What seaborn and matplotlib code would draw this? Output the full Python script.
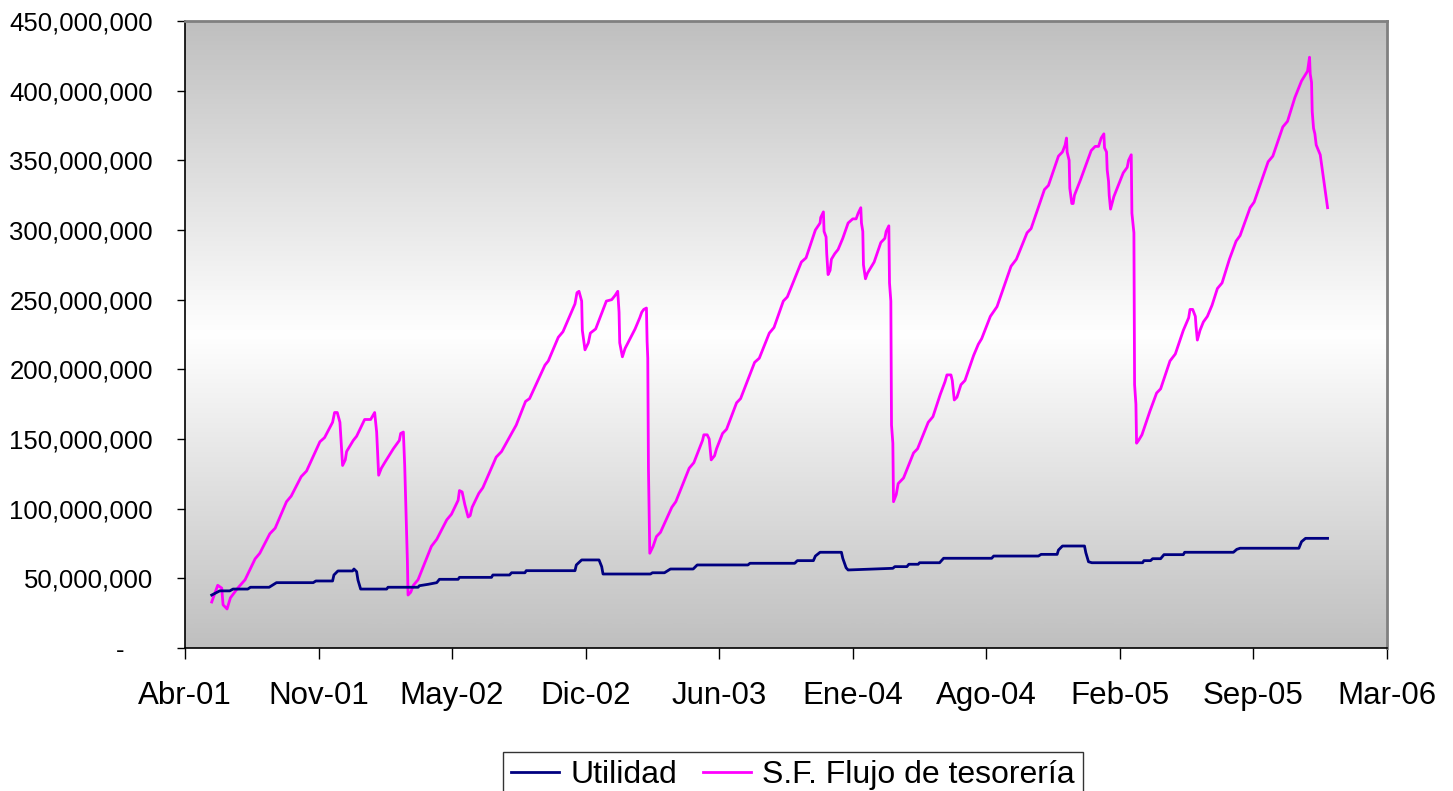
import numpy as np
import pandas as pd
import matplotlib
matplotlib.use("Agg")
import matplotlib.pyplot as plt
import seaborn as sns

# Utilidad (millones)
utilidad_fechas = [
    "2001-05-29", "2001-06-10", "2001-06-25", "2001-06-30", "2001-07-22", "2001-07-26",
    "2001-08-23", "2001-09-03", "2001-10-28", "2001-11-01", "2001-11-26", "2001-11-28",
    "2001-12-04", "2001-12-26", "2001-12-28", "2002-01-01", "2002-01-03", "2002-01-07",
    "2002-02-15", "2002-02-17", "2002-04-03", "2002-04-05", "2002-04-18", "2002-05-01",
    "2002-05-05", "2002-06-02", "2002-06-04", "2002-07-22", "2002-07-24", "2002-08-18",
    "2002-08-21", "2002-09-10", "2002-09-12", "2002-11-24", "2002-11-26", "2002-12-04",
    "2002-12-30", "2003-01-03", "2003-01-05", "2003-03-17", "2003-03-20", "2003-04-07",
    "2003-04-16", "2003-05-20", "2003-05-26", "2003-08-10", "2003-08-13", "2003-10-19",
    "2003-10-23", "2003-11-16", "2003-11-19", "2003-11-26", "2003-12-28", "2003-12-30",
    "2004-01-04", "2004-01-07", "2004-03-14", "2004-03-17", "2004-04-04", "2004-04-07",
    "2004-04-21", "2004-04-23", "2004-05-23", "2004-05-29", "2004-08-09", "2004-08-12",
    "2004-10-18", "2004-10-22", "2004-11-15", "2004-11-17", "2004-11-23", "2004-12-26",
    "2004-12-28", "2005-01-01", "2005-01-06", "2005-03-23", "2005-03-25", "2005-04-04",
    "2005-04-07", "2005-04-19", "2005-04-24", "2005-05-23", "2005-05-25", "2005-08-06",
    "2005-08-11", "2005-08-16", "2005-11-12", "2005-11-16", "2005-11-22", "2005-12-25",
]
utilidad_mm = [
    38.0, 41.0, 41.0, 42.3, 42.3, 43.6,
    43.6, 46.9, 46.9, 48.1, 48.1, 52.4,
    55.3, 55.3, 56.7, 54.8, 48.8, 42.3,
    42.3, 43.6, 43.6, 44.7, 45.7, 46.9,
    49.3, 49.3, 50.7, 50.7, 52.4, 52.4,
    54.0, 54.0, 55.5, 55.5, 59.6, 63.2,
    63.2, 58.4, 53.1, 53.1, 54.0, 54.0,
    56.7, 56.7, 59.6, 59.6, 60.8, 60.8,
    62.7, 62.7, 66.0, 68.7, 68.7, 64.4,
    57.6, 56.0, 57.2, 58.4, 58.4, 60.1,
    60.1, 61.2, 61.2, 64.4, 64.4, 66.0,
    66.0, 67.2, 67.2, 70.3, 73.2, 73.2,
    68.4, 61.9, 61.2, 61.2, 62.7, 62.7,
    64.1, 64.1, 67.0, 67.0, 68.7, 68.7,
    70.8, 71.6, 71.6, 76.3, 78.7, 78.7,
]

# S.F. Flujo de tesoreria (millones)
flujo_fechas = [
    "2001-05-29", "2001-06-07", "2001-06-13", "2001-06-15", "2001-06-21", "2001-06-26",
    "2001-07-07", "2001-07-18", "2001-08-02", "2001-08-09", "2001-08-24", "2001-09-01",
    "2001-09-18", "2001-09-25", "2001-10-10", "2001-10-18", "2001-11-07", "2001-11-14",
    "2001-11-26", "2001-11-29", "2001-12-03", "2001-12-07", "2001-12-11", "2001-12-15",
    "2001-12-17", "2001-12-27", "2002-01-01", "2002-01-13", "2002-01-22", "2002-01-28",
    "2002-01-31", "2002-02-03", "2002-02-07", "2002-02-12", "2002-02-25", "2002-03-06",
    "2002-03-08", "2002-03-12", "2002-03-14", "2002-03-18", "2002-03-19", "2002-03-23",
    "2002-03-27", "2002-04-03", "2002-04-23", "2002-05-01", "2002-05-16", "2002-05-23",
    "2002-06-02", "2002-06-04", "2002-06-08", "2002-06-12", "2002-06-17", "2002-06-20",
    "2002-06-23", "2002-07-03", "2002-07-09", "2002-07-29", "2002-08-06", "2002-08-28",
    "2002-09-11", "2002-09-17", "2002-10-10", "2002-10-15", "2002-10-30", "2002-11-06",
    "2002-11-24", "2002-11-27", "2002-11-30", "2002-12-04", "2002-12-05", "2002-12-09",
    "2002-12-14", "2002-12-17", "2002-12-25", "2003-01-10", "2003-01-18", "2003-01-23",
    "2003-01-27", "2003-01-29", "2003-01-30", "2003-02-03", "2003-02-07", "2003-02-22",
    "2003-03-01", "2003-03-04", "2003-03-07", "2003-03-11", "2003-03-12", "2003-03-13",
    "2003-03-14", "2003-03-16", "2003-03-21", "2003-03-26", "2003-04-01", "2003-04-18",
    "2003-04-24", "2003-05-14", "2003-05-21", "2003-06-03", "2003-06-05", "2003-06-10",
    "2003-06-13", "2003-06-16", "2003-06-21", "2003-06-24", "2003-07-03", "2003-07-09",
    "2003-07-24", "2003-07-30", "2003-08-20", "2003-08-27", "2003-09-11", "2003-09-18",
    "2003-10-02", "2003-10-08", "2003-10-29", "2003-11-05", "2003-11-19", "2003-11-26",
    "2003-11-27", "2003-12-01", "2003-12-02", "2003-12-05", "2003-12-06", "2003-12-08",
    "2003-12-11", "2003-12-13", "2003-12-18", "2003-12-23", "2003-12-30", "2004-01-07",
    "2004-01-14", "2004-01-19", "2004-01-22", "2004-01-26", "2004-01-27", "2004-01-29",
    "2004-01-30", "2004-02-02", "2004-02-05", "2004-02-15", "2004-02-25", "2004-03-02",
    "2004-03-04", "2004-03-08", "2004-03-09", "2004-03-11", "2004-03-12", "2004-03-14",
    "2004-03-15", "2004-03-19", "2004-03-22", "2004-03-30", "2004-04-14", "2004-04-20",
    "2004-05-06", "2004-05-13", "2004-05-24", "2004-05-31", "2004-06-03", "2004-06-09",
    "2004-06-11", "2004-06-14", "2004-06-18", "2004-06-24", "2004-06-30", "2004-07-13",
    "2004-07-20", "2004-07-25", "2004-08-07", "2004-08-17", "2004-09-07", "2004-09-15",
    "2004-10-01", "2004-10-07", "2004-10-27", "2004-11-02", "2004-11-17", "2004-11-23",
    "2004-11-27", "2004-11-29", "2004-11-30", "2004-12-03", "2004-12-04", "2004-12-07",
    "2004-12-09", "2004-12-11", "2004-12-20", "2005-01-05", "2005-01-11", "2005-01-16",
    "2005-01-20", "2005-01-24", "2005-01-25", "2005-01-28", "2005-01-29", "2005-01-31",
    "2005-02-01", "2005-02-03", "2005-02-08", "2005-02-22", "2005-02-28", "2005-03-02",
    "2005-03-06", "2005-03-07", "2005-03-10", "2005-03-11", "2005-03-13", "2005-03-14",
    "2005-03-17", "2005-03-22", "2005-04-03", "2005-04-13", "2005-04-19", "2005-05-03",
    "2005-05-11", "2005-05-23", "2005-05-31", "2005-06-02", "2005-06-06", "2005-06-10",
    "2005-06-11", "2005-06-13", "2005-06-17", "2005-06-22", "2005-06-28", "2005-07-05",
    "2005-07-13", "2005-07-20", "2005-07-31", "2005-08-10", "2005-08-16", "2005-08-31",
    "2005-09-06", "2005-09-27", "2005-10-04", "2005-10-19", "2005-10-26", "2005-11-06",
    "2005-11-16", "2005-11-25", "2005-11-28", "2005-11-29", "2005-12-01", "2005-12-02",
    "2005-12-04", "2005-12-06", "2005-12-08", "2005-12-14", "2005-12-25",
]
flujo_mm = [
    33, 45, 43, 31, 28, 36,
    43, 49, 64, 68, 82, 86,
    105, 109, 123, 127, 148, 151,
    162, 169, 169, 162, 131, 135,
    141, 149, 152, 164, 164, 169,
    155, 124, 129, 133, 143, 149,
    154, 155, 131, 63, 38, 40,
    45, 49, 73, 78, 92, 96,
    106, 113, 112, 103, 94, 95,
    101, 111, 115, 137, 141, 160,
    177, 179, 203, 206, 223, 227,
    247, 255, 256, 249, 228, 214,
    219, 226, 229, 249, 250, 253,
    256, 241, 219, 209, 215, 229,
    237, 241, 243, 244, 220, 208,
    129, 68, 73, 80, 83, 101,
    105, 129, 133, 149, 153, 153,
    150, 135, 138, 143, 154, 157,
    176, 179, 205, 208, 226, 230,
    249, 252, 277, 280, 300, 305,
    309, 313, 299, 295, 283, 268,
    271, 279, 283, 286, 294, 305,
    308, 308, 312, 316, 305, 299,
    275, 265, 269, 277, 291, 294,
    299, 303, 262, 249, 160, 147,
    105, 110, 118, 122, 140, 143,
    162, 166, 182, 191, 196, 196,
    192, 178, 180, 189, 192, 210,
    218, 222, 238, 245, 274, 279,
    298, 301, 329, 332, 353, 356,
    361, 366, 356, 350, 330, 319,
    319, 325, 336, 357, 360, 360,
    366, 369, 359, 356, 343, 335,
    325, 315, 324, 341, 345, 350,
    354, 312, 298, 189, 175, 147,
    149, 153, 170, 183, 186, 206,
    211, 228, 237, 243, 243, 238,
    231, 221, 228, 234, 238, 246,
    258, 262, 279, 292, 296, 316,
    320, 349, 353, 374, 378, 395,
    407, 414, 424, 412, 406, 385,
    373, 369, 361, 354, 316,
]

x_inicio = "2001-04-19"
x_fin = "2006-03-23"
x_etiquetas = ["Abr-01", "Nov-01", "May-02", "Dic-02", "Jun-03",
               "Ene-04", "Ago-04", "Feb-05", "Sep-05", "Mar-06"]
y_ticks = [0, 50e6, 100e6, 150e6, 200e6, 250e6, 300e6, 350e6, 400e6, 450e6]
y_etiquetas = ["-    ", "50,000,000", "100,000,000", "150,000,000", "200,000,000",
               "250,000,000", "300,000,000", "350,000,000", "400,000,000", "450,000,000"]

df_u = pd.DataFrame({"fecha": pd.to_datetime(utilidad_fechas),
                     "valor": np.array(utilidad_mm) * 1e6})
df_f = pd.DataFrame({"fecha": pd.to_datetime(flujo_fechas),
                     "valor": np.array(flujo_mm) * 1e6})

plt.rcParams["font.family"] = ["Liberation Sans", "DejaVu Sans"]

fig = plt.figure(figsize=(14.53, 7.91), dpi=100)
ax = fig.add_axes([185 / 1453, 1 - 648 / 791, 1202 / 1453, 627 / 791])

# fondo degradado gris-blanco-gris
t = np.linspace(0, 1, 256)
g = 0.75 + 0.25 * (1 - np.abs(t - 0.5) / 0.5)
grad = np.dstack([g, g, g]).reshape(256, 1, 3)
ax.imshow(grad, extent=[0, 1, 0, 1], transform=ax.transAxes, aspect="auto",
          zorder=0, interpolation="bicubic")

sns.lineplot(data=df_u, x="fecha", y="valor", ax=ax, color="#000080", linewidth=2.0,
             estimator=None, sort=False, label="Utilidad", zorder=3)
sns.lineplot(data=df_f, x="fecha", y="valor", ax=ax, color="#ff00ff", linewidth=2.0,
             estimator=None, sort=False, label="S.F. Flujo de tesorería", zorder=2)

x0 = pd.Timestamp(x_inicio)
x1 = pd.Timestamp(x_fin)
ax.set_xlim(x0, x1)
ax.set_ylim(0, 450e6)
ax.set_xticks([x0 + pd.Timedelta(days=200 * i) for i in range(len(x_etiquetas))])
ax.set_xticklabels(x_etiquetas, fontsize=22.5)
ax.set_yticks(y_ticks)
ax.set_yticklabels(y_etiquetas, fontsize=18.5)
ax.set_xlabel("")
ax.set_ylabel("")

ax.tick_params(axis="y", direction="out", length=6, width=1, pad=17)
ax.tick_params(axis="x", direction="out", length=8, width=1, pad=16)
for side in ["left", "bottom"]:
    ax.spines[side].set_color("black")
    ax.spines[side].set_linewidth(1.2)
for side in ["top", "right"]:
    ax.spines[side].set_color("#808080")
    ax.spines[side].set_linewidth(2)

handles, labels = ax.get_legend_handles_labels()
ax.get_legend().remove()
leg = fig.legend(handles, labels, loc="upper center",
                 bbox_to_anchor=(793 / 1453, 1 - 752 / 791), ncol=2,
                 frameon=True, fancybox=False, edgecolor="black", fontsize=23,
                 handlelength=1.5, handletextpad=0.35, columnspacing=0.8,
                 borderpad=0.25, borderaxespad=0)
leg.get_frame().set_linewidth(1.0)

fig.savefig("out.png", dpi=100)
